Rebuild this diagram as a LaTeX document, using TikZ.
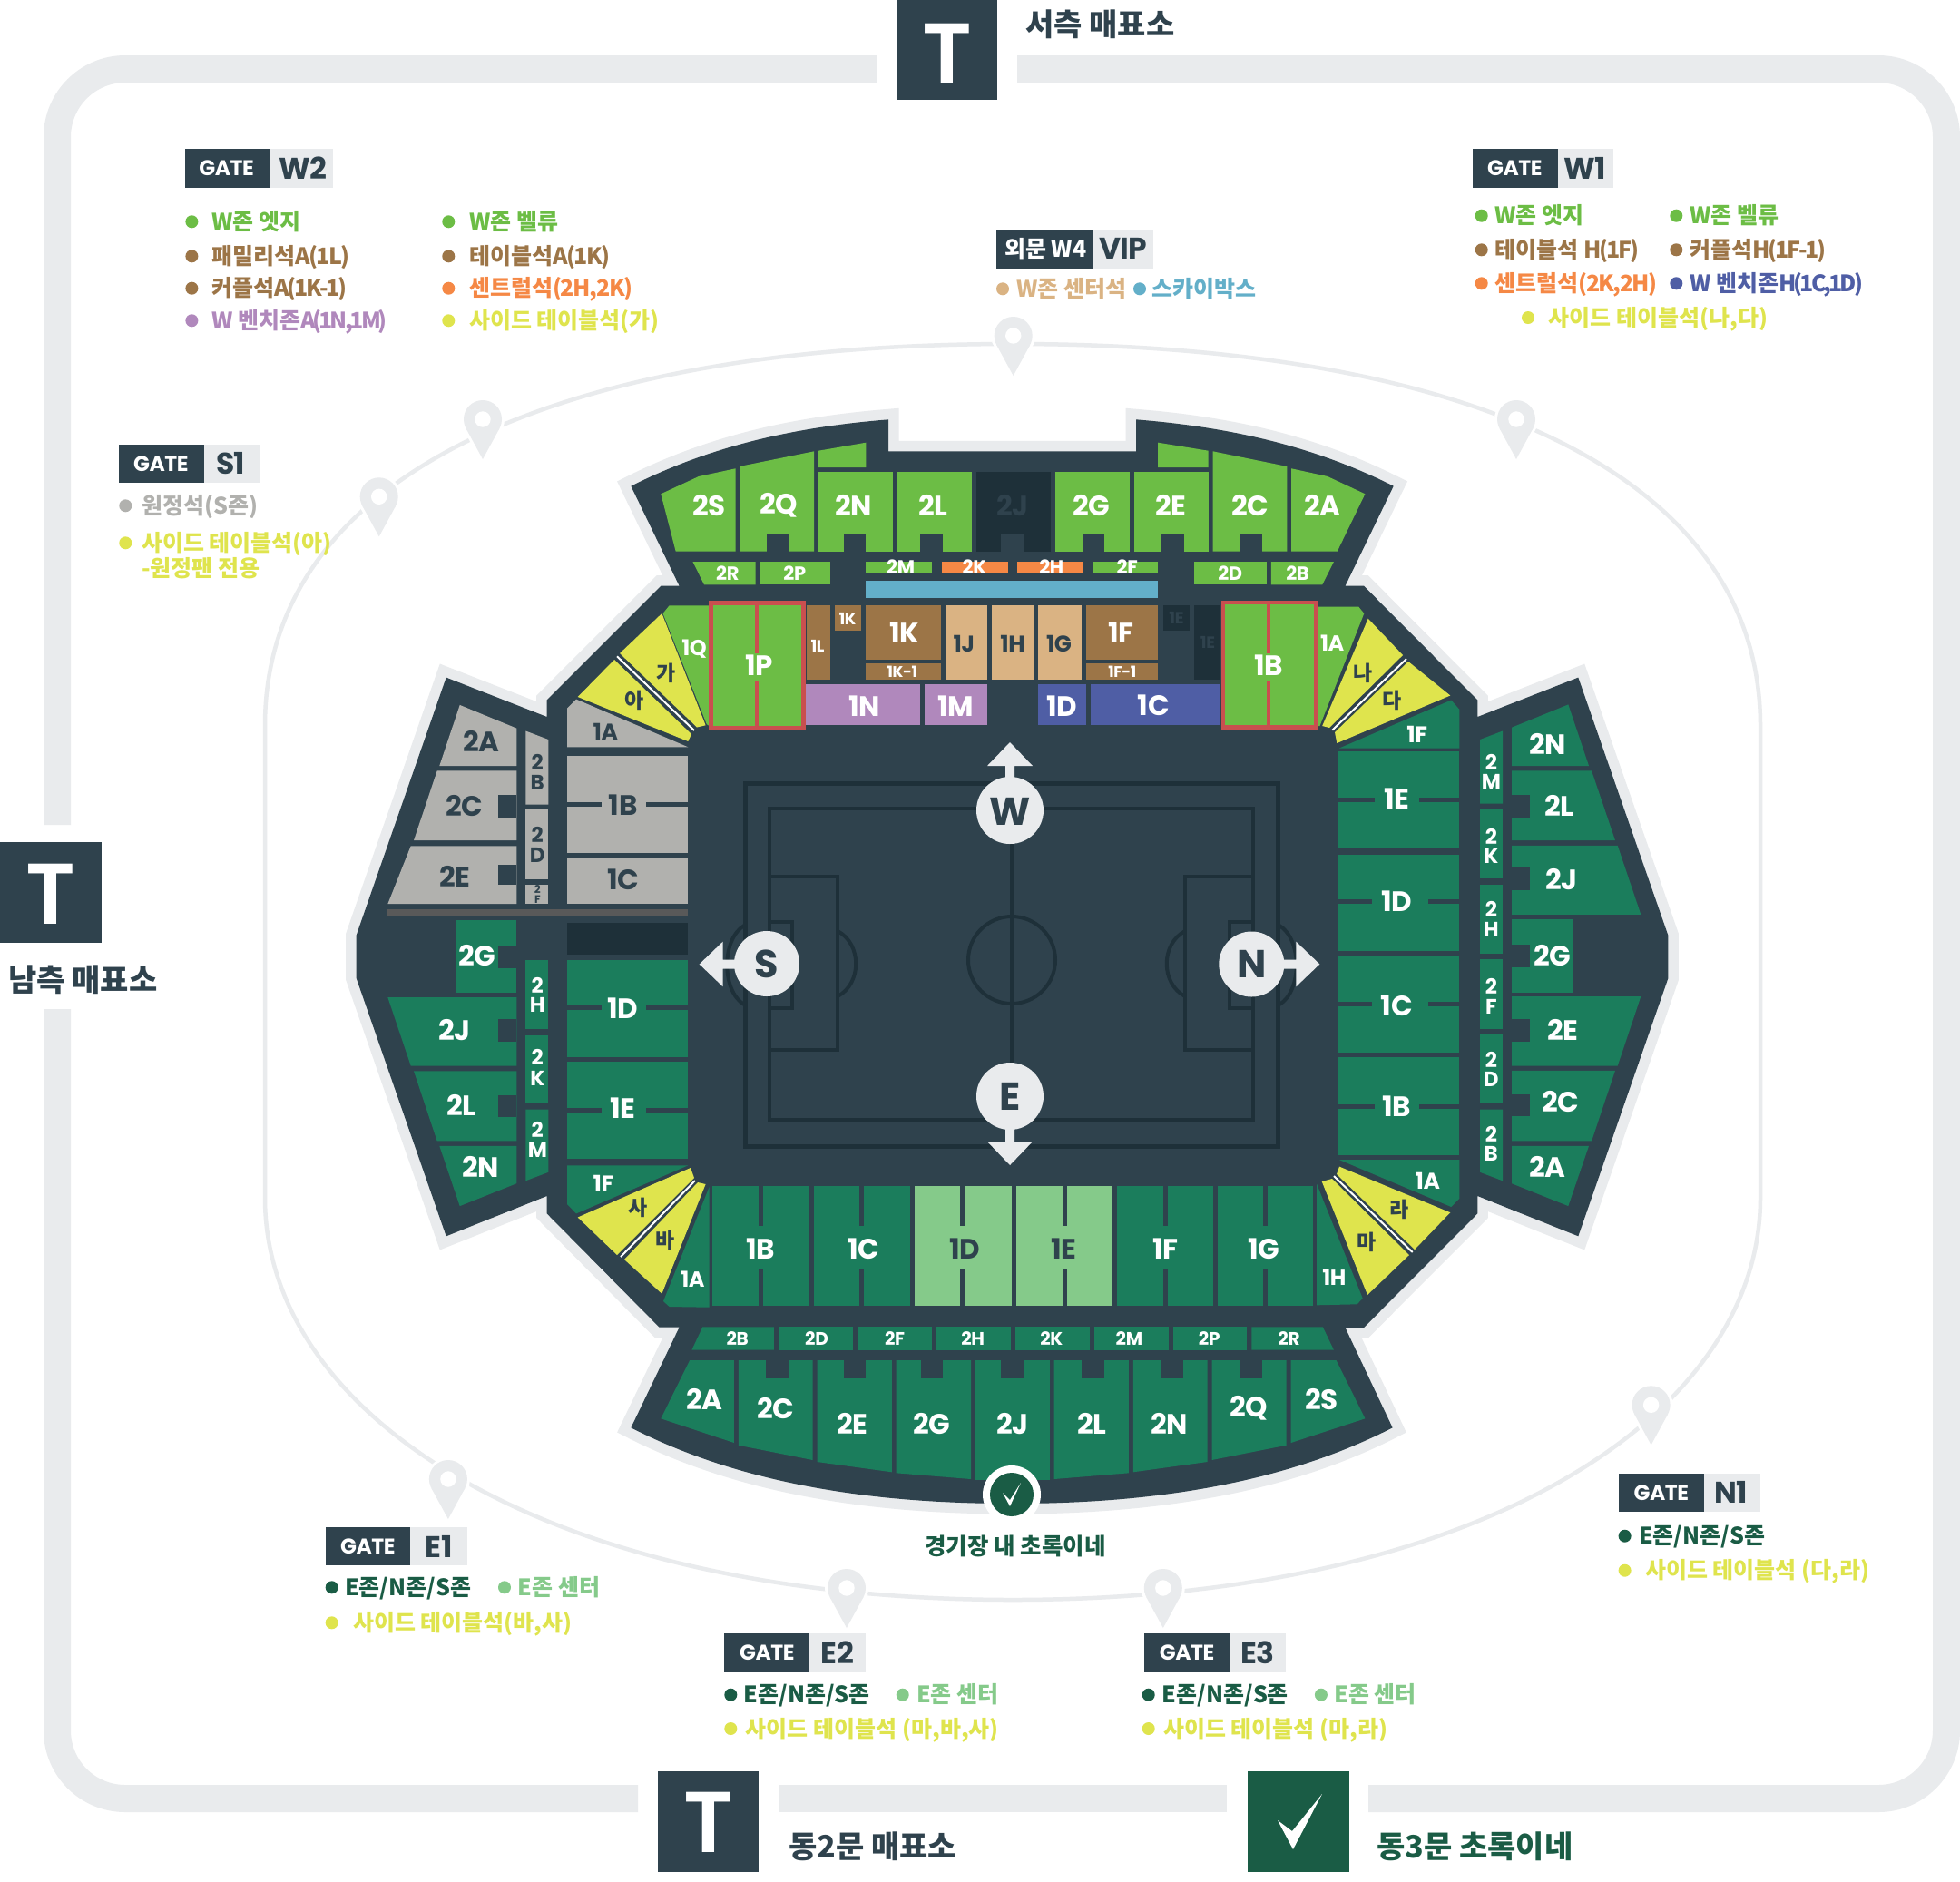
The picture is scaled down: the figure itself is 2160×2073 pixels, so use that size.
\documentclass[tikz,border=0pt]{standalone}
\usepackage{fontspec}
\newfontfamily\pop{Poppins}[LetterSpace=-2]
\newfontfamily\popsb{Poppins SemiBold}
\newfontfamily\kr{Noto Sans CJK KR}
\definecolor{dark}{HTML}{2F424D}
\definecolor{darker}{HTML}{1E3039}
\definecolor{lite}{HTML}{E9EBED}
\definecolor{wgreen}{HTML}{6CBD45}
\definecolor{brown}{HTML}{9C7547}
\definecolor{tan}{HTML}{DAB383}
\definecolor{purp}{HTML}{B088BC}
\definecolor{navy}{HTML}{4F5EA5}
\definecolor{orng}{HTML}{F58845}
\definecolor{sky}{HTML}{63AFC9}
\definecolor{yel}{HTML}{DFE44D}
\definecolor{dgreen}{HTML}{1B7D5C}
\definecolor{lgreen}{HTML}{85CA8A}
\definecolor{gry}{HTML}{B1B1AE}
\definecolor{redb}{HTML}{C94F4F}
\definecolor{forest}{HTML}{1A5C45}
\tikzset{
 lbl/.style={inner sep=0pt,font=\pop\bfseries},
 krl/.style={inner sep=0pt,font=\kr\bfseries},
 legtext/.style={inner sep=0pt,anchor=base west,font=\kr\bfseries},
 track/.style={draw=lite,line width=30pt,rounded corners=75pt},
 fieldline/.style={draw=darker,line width=4pt},
 redbox/.style={draw=redb,line width=4.5pt,fill=wgreen},
}
\newcommand{\wl}[4]{\node[lbl,text=white] at (#1,#2) {\fontsize{#3}{#3}\selectfont #4};}
\newcommand{\dl}[4]{\node[lbl,text=dark] at (#1,#2) {\fontsize{#3}{#3}\selectfont #4};}
\newcommand{\hl}[3]{\node[krl,text=dark] at (#1,#2) {\fontsize{23}{23}\selectfont #3};}
\newcommand{\stk}[7]{\node[lbl,text=#1] at (#2,#3) {\fontsize{#7}{#7}\selectfont #5};\node[lbl,text=#1] at (#2,#4) {\fontsize{#7}{#7}\selectfont #6};}
\newcommand{\nt}[4]{\fill[dark] (#1,#3) rectangle (#2,#4);}
\newcommand{\tgt}[2][-8]{{\addfontfeature{LetterSpace=#1}#2}}
\newcommand{\leg}[5]{\fill[#4] (#1,#3) circle[radius=7];\node[legtext,text=#4] at (#2,#3+9) {\fontsize{25}{25}\selectfont #5};}
\newcommand{\gate}[8]{\fill[lite] (#1,#4) rectangle (#3,#5);\fill[dark] (#1,#4) rectangle (#2,#5);
 \node[lbl,text=white] at (#6,{(#4+#5)/2}) {\fontsize{23.5}{24}\selectfont GATE};
 \node[lbl,text=dark] at (#7,{(#4+#5)/2}) {\fontsize{33}{33}\selectfont #8};}
\newcommand{\pinm}[2]{\fill[white,draw=white,line width=6pt] (#1,#2) circle[radius=21];
 \fill[white,draw=white,line width=6pt] (#1-18.5,#2+10) -- (#1,#2+44) -- (#1+18.5,#2+10) -- cycle;
 \fill[lite] (#1,#2) circle[radius=21];
 \fill[lite] (#1-18.5,#2+10) -- (#1,#2+44) -- (#1+18.5,#2+10) -- cycle;
 \fill[white] (#1,#2) circle[radius=8.7];}
\begin{document}
\begin{tikzpicture}[x=1pt,y=-1pt,line join=miter]
\useasboundingbox (0,0) rectangle (2160,2073);
\fill[white] (0,0) rectangle (2160,2073);
% outer track
\begin{scope}
\clip (0,0) rectangle (2160,2073);
\draw[track] (966,76) -- (63,76) -- (63,909);
\draw[track] (1121,76) -- (2145,76) -- (2145,1982) -- (1508,1982);
\draw[track] (63,1112) -- (63,1982) -- (703,1982);
\draw[draw=lite,line width=30pt] (858,1982) -- (1352,1982);
\end{scope}
% inner ring
\draw[lite,line width=4.5pt] (292,800) .. controls (292,520) and (620,379) .. (1116,379)
 .. controls (1612,379) and (1940,520) .. (1940,800) -- (1940,1320)
 .. controls (1940,1560) and (1632,1763) .. (1116,1763)
 .. controls (600,1763) and (292,1560) .. (292,1320) -- cycle;
% stadium outline
\def\stadium{(695.4,535.7) .. controls (790,488) and (885,470) .. (979,462.3) -- (979,497.3) -- (1252,497.3) -- (1252,462.3) .. controls (1346,470) and (1441,488) .. (1535.7,535.7) -- (1482.5,645.7) -- (1503,645.7) -- (1628.3,771.5) -- (1628.3,790) -- (1739.3,746.6) -- (1838.3,1030.6) -- (1838.3,1078.3) -- (1739.3,1362.3) -- (1628.3,1318) -- (1628.3,1337.4) -- (1503,1463) -- (1482.5,1463) -- (1534.6,1573.3) .. controls (1420,1632) and (1280,1657) .. (1115.5,1657) .. controls (950,1657) and (810,1632) .. (695.4,1573.3) -- (748.6,1462.7) -- (726.6,1462.7) -- (602.7,1337.4) -- (602.7,1318) -- (491.7,1362.3) -- (392.7,1078) -- (392.7,1030.6) -- (491.7,746.6) -- (602.7,790) -- (602.7,771.5) -- (728.3,645.7) -- (748.6,645.7) -- cycle}
\draw[lite,line width=23pt,miter limit=20] \stadium;
\fill[dark] \stadium;
% ---------- top upper stand
\fill[wgreen] (728.3,544.3) -- (770,525) -- (810.5,516.3) -- (810.5,607.7) -- (744.7,607.7) -- cycle;
\fill[wgreen] (815,514) -- (897.2,497.3) -- (897.2,607.7) -- (815,607.7) -- cycle; \nt{844.6}{869.2}{587.7}{607.7}
\fill[wgreen] (902,496.7) -- (954.3,487.7) -- (954.3,515) -- (902,515) -- cycle;
\fill[wgreen] (902.1,520) rectangle (983.9,607.7); \nt{929.6}{954.3}{587.7}{607.7}
\fill[wgreen] (988.8,520) rectangle (1071,607.7); \nt{1014}{1039.3}{587.7}{607.7}
\fill[darker] (1076,520) rectangle (1158.3,607.7); \nt{1103.4}{1128.7}{587.7}{607.7}
\fill[wgreen] (1163.2,520) rectangle (1245,607.7); \nt{1192.9}{1217}{587.7}{607.7}
\fill[wgreen] (1250,520) rectangle (1331.6,607.7); \nt{1279.5}{1304.7}{587.7}{607.7}
\fill[wgreen] (1276.2,487.7) -- (1331.6,496.7) -- (1331.6,515) -- (1276.2,515) -- cycle;
\fill[wgreen] (1336.6,497.3) -- (1418.3,514) -- (1418.3,607.7) -- (1336.6,607.7) -- cycle; \nt{1366.7}{1391.4}{587.7}{607.7}
\fill[wgreen] (1423.2,516.3) -- (1463,525) -- (1504.4,544.3) -- (1473.7,607.7) -- (1423.2,607.7) -- cycle;
\wl{781.5}{556.7}{31}{2S} \wl{858.3}{556.7}{31}{2Q} \wl{940.5}{556.7}{31}{2N} \wl{1028.3}{556.7}{31}{2L}
\node[lbl,text=dark] at (1116,556.7) {\fontsize{31}{31}\selectfont 2J};
\wl{1202.7}{556.7}{31}{2G} \wl{1290}{556.7}{31}{2E} \wl{1377.7}{556.7}{31}{2C} \wl{1457.2}{556.7}{31}{2A}
% top lower row
\fill[wgreen] (763.4,619) -- (832.5,619) -- (832.5,644.3) -- (776,644.3) -- cycle;
\fill[wgreen] (836.9,619) rectangle (914.8,644.3);
\fill[wgreen] (954.3,619) rectangle (1027.2,632);
\fill[orng] (1037.6,619) rectangle (1110.6,632);
\fill[orng] (1120.5,619) rectangle (1193.4,632);
\fill[wgreen] (1203.8,619) rectangle (1276.2,632);
\fill[wgreen] (1316.3,619) rectangle (1395.8,644.3);
\fill[wgreen] (1400.8,619) -- (1469.9,619) -- (1457.2,644.3) -- (1400.8,644.3) -- cycle;
\fill[sky] (954.3,640) rectangle (1276.2,659.3);
\wl{801.8}{631.7}{21}{2R} \wl{875.8}{631.7}{21}{2P} \wl{992.6}{624.3}{21}{2M} \wl{1073.8}{624.3}{21}{2K} \wl{1158.8}{624.3}{21}{2H} \wl{1242.2}{624.3}{21}{2F} \wl{1355.8}{631.7}{21}{2D} \wl{1430}{631.7}{21}{2B}
% top 1st tier
\fill[wgreen] (737.6,667.3) -- (781.5,667.3) -- (781.5,800) -- (778.7,798) -- (730.5,676) -- cycle;
\fill[brown] (889,667.3) rectangle (914.8,749);
\fill[brown] (920.2,667.3) rectangle (949.3,695.3);
\fill[brown] (954.3,667.3) rectangle (1036.5,726.7);
\fill[brown] (954.3,731) rectangle (1036.5,749);
\fill[tan] (1041.5,667.3) rectangle (1088.1,749);
\fill[tan] (1092.5,667.3) rectangle (1139.1,749);
\fill[tan] (1144,667.3) rectangle (1191.8,749);
\fill[brown] (1196.7,667.3) rectangle (1276.2,726.7);
\fill[brown] (1196.7,731) rectangle (1276.2,749);
\fill[darker] (1282.2,667.3) rectangle (1310.8,695.3);
\fill[darker] (1315.7,667.3) rectangle (1345.4,749);
\fill[purp] (888.4,753.7) rectangle (1013.5,799.3);
\fill[purp] (1019,753.7) rectangle (1088.1,799.3);
\fill[navy] (1144,753.7) rectangle (1197.2,799.3);
\fill[navy] (1202.2,753.7) rectangle (1345.4,799.3);
\fill[wgreen] (1452.1,668.7) -- (1497.3,668.7) -- (1503.3,676) -- (1454.5,800) -- (1452.1,800) -- cycle;
\draw[redbox] (783.7,664.5) rectangle (885.5,802.5);
\fill[redb] (831.8,664.5) rectangle (836.2,720); \fill[redb] (831.8,750.7) rectangle (836.2,802.5);
\draw[redbox] (1348,664) rectangle (1450,801.5);
\fill[redb] (1395.9,664) rectangle (1400.3,720); \fill[redb] (1395.9,750.7) rectangle (1400.3,801.5);
\wl{765}{715}{24}{1Q} \wl{836.3}{732.7}{31}{1P} \wl{901}{711.7}{18}{1L} \wl{934}{681.7}{18}{1K} \wl{996.5}{696.7}{31}{1K} \wl{994.3}{740}{17}{1K-1}
\dl{1062.3}{709.3}{25}{1J} \dl{1116}{709.3}{25}{1H} \dl{1167}{709.3}{25}{1G}
\wl{1235.6}{696.7}{31}{1F} \wl{1236.7}{740}{17}{1F-1}
\dl{1296.5}{680.7}{18}{1E} \dl{1331}{708.3}{18}{1E}
\wl{1398.5}{732.7}{31}{1B} \wl{1468.2}{708.3}{24}{1A}
\wl{952.6}{777.7}{31}{1N} \wl{1053}{777.7}{31}{1M} \wl{1169.8}{777.7}{31}{1D} \wl{1271.3}{777.7}{31}{1C}
% yellow wedges
\fill[yel] (729.4,676) -- (777.6,799.3) -- (768,801.5) -- (683,720) -- cycle;
\fill[yel] (636.7,768) -- (677,727) -- (762,809) -- (758.3,817) -- cycle;
\draw[white,line width=2pt] (680,723.3) -- (765,805);
\fill[yel] (636.7,1341.5) -- (761,1287) -- (765,1298) -- (680,1383) -- cycle;
\fill[yel] (777.6,1305) -- (769,1303) -- (688,1388) -- (729.4,1425.7) -- cycle;
\draw[white,line width=2pt] (766,1301) -- (684,1385);
\fill[yel] (1507.7,681.7) -- (1546,722) -- (1465,802) -- (1457.2,800) -- cycle;
\fill[yel] (1471,807) -- (1552,729) -- (1598.3,766.5) -- (1473.3,819) -- cycle;
\draw[white,line width=2pt] (1468.3,804.6) -- (1550,726);
\fill[yel] (1476,1285.6) -- (1598.3,1336.2) -- (1559,1377) -- (1473,1294) -- cycle;
\fill[yel] (1456.7,1302) -- (1468,1299) -- (1553,1383) -- (1507,1427) -- cycle;
\draw[white,line width=2pt] (1470,1296) -- (1556.7,1380);
\hl{733.8}{741.7}{가} \hl{699}{771.5}{아} \hl{703.3}{1331.2}{사} \hl{733.3}{1366.4}{바}
\hl{1501.7}{741.7}{나} \hl{1534.3}{771.5}{다} \hl{1541.7}{1333.2}{라} \hl{1505.7}{1368.5}{마}
% ---------- left wing gray
\fill[gry] (506.7,776.9) -- (569.3,802.6) -- (569.3,844) -- (484.3,844) -- cycle;
\fill[gry] (481.7,849.4) -- (569.3,849.4) -- (569.3,926.1) -- (456,926.1) -- cycle; \nt{549.3}{569.3}{876}{901.2}
\fill[gry] (452.7,932.3) -- (569.3,932.3) -- (569.3,996.2) -- (427.3,996.2) -- cycle; \nt{549.3}{569.3}{953}{974.6}
\fill[gry] (579.3,805.5) -- (604.3,815) -- (604.3,886.7) -- (579.3,886.7) -- cycle;
\fill[gry] (579.3,891.7) rectangle (604.3,969.2);
\fill[gry] (579.3,974.6) rectangle (604.3,996.2);
\fill[gry] (625,780.6) -- (635,770.6) -- (758.3,823.3) -- (625,823.3) -- cycle;
\fill[gry] (625,832.8) rectangle (758.3,940.2);
\fill[gry] (625,945.6) rectangle (758.3,996.2);
\nt{625}{663.3}{883.8}{888.8} \nt{712.3}{758.3}{883.8}{888.8}
\fill[black!65] (426,1001.6) rectangle (758.3,1009);
\fill[darker] (625,1017.3) rectangle (758.3,1052.2);
\dl{530}{817}{31}{2A} \dl{511.7}{888.4}{31}{2C} \dl{501}{966.3}{31}{2E}
\stk{dark}{592.3}{840}{862}{2}{B}{23} \stk{dark}{592.3}{920}{942.3}{2}{D}{23} \stk{dark}{592.3}{980}{991}{2}{F}{12}
\dl{667.3}{805.9}{25}{1A} \dl{686.7}{886.7}{31}{1B} \dl{686.7}{969.6}{31}{1C}
% left wing green
\fill[dgreen] (502,1014) rectangle (569.3,1093.6); \nt{549.3}{569.3}{1042.2}{1066.7}
\fill[dgreen] (427.3,1099) -- (569.3,1099) -- (569.3,1174.5) -- (452.7,1174.5) -- cycle; \nt{549.3}{569.3}{1123}{1147.9}
\fill[dgreen] (456,1180.3) -- (569.3,1180.3) -- (569.3,1257.4) -- (481.7,1257.4) -- cycle; \nt{549.3}{569.3}{1206.8}{1230.8}
\fill[dgreen] (484.3,1262.8) -- (569.3,1262.8) -- (569.3,1304.2) -- (506.7,1329.1) -- cycle;
\fill[dgreen] (579.3,1057.5) rectangle (604.3,1134.2);
\fill[dgreen] (579.3,1140.5) rectangle (604.3,1216.3);
\fill[dgreen] (579.3,1222.5) -- (604.3,1222.5) -- (604.3,1291.8) -- (579.3,1301.3) -- cycle;
\fill[dgreen] (625,1057.5) rectangle (758.3,1164.5);
\fill[dgreen] (625,1170.3) rectangle (758.3,1277.3);
\nt{625}{663.3}{1108}{1113} \nt{712.3}{758.3}{1108}{1113}
\nt{625}{663.3}{1221}{1226} \nt{712.3}{758.3}{1221}{1226}
\fill[dgreen] (625,1284.3) -- (758.3,1284.3) -- (635,1337.4) -- (625,1327) -- cycle;
\wl{526}{1053.4}{31}{2G} \wl{500.7}{1135}{31}{2J} \wl{508}{1218.4}{31}{2L} \wl{529.3}{1285.6}{31}{2N}
\stk{white}{592.3}{1085.7}{1107.3}{2}{H}{23} \stk{white}{592.3}{1165.3}{1188}{2}{K}{23} \stk{white}{592.3}{1245.3}{1267.7}{2}{M}{23}
\wl{686.7}{1111.4}{31}{1D} \wl{686.7}{1221.3}{31}{1E} \wl{665}{1304.2}{25}{1F}
% ---------- right wing
\fill[dgreen] (1666,801.7) -- (1728.3,776.4) -- (1751,844) -- (1666,844) -- cycle;
\fill[dgreen] (1666,849.4) -- (1754,849.4) -- (1780,926.1) -- (1666,926.1) -- cycle; \nt{1666}{1686}{876}{901.2}
\fill[dgreen] (1666,931.9) -- (1782.7,931.9) -- (1808.3,1007.8) -- (1666,1007.8) -- cycle; \nt{1666}{1686}{956.4}{981.2}
\fill[dgreen] (1666,1013.2) rectangle (1733.3,1093.6); \nt{1666}{1686}{1041}{1065.8}
\fill[dgreen] (1666,1098.2) -- (1808.3,1098.2) -- (1782.7,1174.5) -- (1666,1174.5) -- cycle; \nt{1666}{1686}{1123}{1147.9}
\fill[dgreen] (1666,1179.8) -- (1780,1179.8) -- (1754,1257.4) -- (1666,1257.4) -- cycle; \nt{1666}{1686}{1205.6}{1230.4}
\fill[dgreen] (1666,1262.8) -- (1751,1262.8) -- (1728.3,1329.1) -- (1666,1304.2) -- cycle;
\fill[dgreen] (1631,815) -- (1656,805.5) -- (1656,885.5) -- (1631,885.5) -- cycle;
\fill[dgreen] (1631,891.7) rectangle (1656,968.4);
\fill[dgreen] (1631,974.6) rectangle (1656,1050.5);
\fill[dgreen] (1631,1056.7) rectangle (1656,1134.2);
\fill[dgreen] (1631,1139.6) rectangle (1656,1216.3);
\fill[dgreen] (1631,1222.5) -- (1656,1222.5) -- (1656,1301.3) -- (1631,1291.8) -- cycle;
\fill[dgreen] (1476,824.5) -- (1599.3,771.5) -- (1608.3,781.8) -- (1608.3,824.5) -- cycle;
\fill[dgreen] (1474.3,828.3) rectangle (1608.3,935.2);
\fill[dgreen] (1474.3,941.5) rectangle (1608.3,1048);
\fill[dgreen] (1474.3,1053.4) rectangle (1608.3,1160.4);
\fill[dgreen] (1474.3,1165.3) rectangle (1608.3,1273.1);
\fill[dgreen] (1476,1278.1) -- (1608.3,1278.1) -- (1608.3,1320.8) -- (1599.3,1330) -- cycle;
\nt{1474.3}{1515}{879.2}{884.2} \nt{1564}{1608.3}{879.2}{884.2}
\nt{1474.3}{1511.7}{991.2}{996.2} \nt{1574}{1608.3}{991.2}{996.2}
\nt{1474.3}{1511.7}{1104}{1109} \nt{1574}{1608.3}{1104}{1109}
\nt{1474.3}{1515}{1216.7}{1221.7} \nt{1564}{1608.3}{1216.7}{1221.7}
\wl{1705.7}{820.4}{31}{2N} \wl{1718.3}{888.4}{31}{2L} \wl{1721}{969.2}{31}{2J} \wl{1710.7}{1053.4}{31}{2G} \wl{1722.3}{1135}{31}{2E} \wl{1720}{1214.3}{31}{2C} \wl{1705.7}{1285.6}{31}{2A}
\stk{white}{1643.3}{839.9}{861.8}{2}{M}{23} \stk{white}{1643.3}{921.5}{943.5}{2}{K}{23} \stk{white}{1643.3}{1001.6}{1024.4}{2}{H}{23}
\stk{white}{1643.3}{1086.6}{1109.4}{2}{F}{23} \stk{white}{1643.3}{1168.2}{1189.4}{2}{D}{23} \stk{white}{1643.3}{1249.5}{1271}{2}{B}{23}
\wl{1561.7}{809.6}{25}{1F} \wl{1539.3}{880}{31}{1E} \wl{1539.3}{993.3}{31}{1D} \wl{1539.3}{1108.5}{31}{1C} \wl{1539.3}{1219.2}{31}{1B} \wl{1573.3}{1300.9}{25}{1A}
% ---------- bottom 1st tier
\fill[dgreen] (781.5,1308.3) -- (781.5,1440.7) -- (737.6,1440) -- (731,1434) -- cycle;
\fill[dgreen] (785.3,1307.3) rectangle (891.7,1439.3);
\fill[dgreen] (897.2,1307.3) rectangle (1002.5,1439.3);
\fill[lgreen] (1008,1307.3) rectangle (1115,1439.3);
\fill[lgreen] (1120.4,1307.3) rectangle (1225.8,1439.3);
\fill[dgreen] (1231.2,1307.3) rectangle (1337.1,1439.3);
\fill[dgreen] (1342,1307.3) rectangle (1446.8,1439.3);
\fill[dgreen] (1451.2,1305) -- (1451.2,1438.3) -- (1495.6,1437.3) -- (1501.7,1430.7) -- cycle;
\foreach \dx in {838.5,949.3,1060.1,1173.1,1284.4,1394.1}{
 \fill[dark] (\dx-2.5,1307.3) rectangle (\dx+2.5,1350.7);
 \fill[dark] (\dx-2.5,1399.3) rectangle (\dx+2.5,1439.3);}
\wl{763.4}{1409.3}{24}{1A} \wl{838.5}{1376}{31}{1B} \wl{951.5}{1376}{31}{1C} \dl{1062.9}{1376}{31}{1D} \dl{1172.6}{1376}{31}{1E} \wl{1284.4}{1376}{31}{1F} \wl{1393}{1376}{31}{1G} \wl{1470.4}{1407.3}{24}{1H}
% bottom row
\fill[dgreen] (774.3,1462.3) -- (852.8,1462.3) -- (852.8,1487.7) -- (762.3,1487.7) -- cycle;
\fill[dgreen] (858.3,1462.3) rectangle (940,1487.7);
\fill[dgreen] (945,1462.3) rectangle (1027.2,1487.7);
\fill[dgreen] (1032.1,1462.3) rectangle (1113.9,1487.7);
\fill[dgreen] (1118.8,1462.3) rectangle (1201.1,1487.7);
\fill[dgreen] (1205.5,1462.3) rectangle (1287.7,1487.7);
\fill[dgreen] (1292.7,1462.3) rectangle (1374.4,1487.7);
\fill[dgreen] (1379.3,1462.3) -- (1457.8,1462.3) -- (1469.9,1487.7) -- (1379.3,1487.7) -- cycle;
\wl{812.7}{1475}{20}{2B} \wl{900}{1475}{20}{2D} \wl{986}{1475}{20}{2F} \wl{1072.2}{1475}{20}{2H} \wl{1158.8}{1475}{20}{2K} \wl{1244.4}{1475}{20}{2M} \wl{1332.7}{1475}{20}{2P} \wl{1420.5}{1475}{20}{2R}
% bottom stand
\fill[dgreen] (760.1,1499) -- (808.9,1499) -- (808.9,1590) -- (728.3,1563.3) -- cycle;
\fill[dgreen] (813.8,1499) -- (895.6,1499) -- (895.6,1609) -- (813.8,1592.7) -- cycle; \nt{844}{869.2}{1499}{1519.3}
\fill[dgreen] (900.5,1499) -- (982.8,1499) -- (982.8,1622.3) -- (900.5,1611) -- cycle; \nt{929.6}{954.3}{1499}{1519.3}
\fill[dgreen] (987.7,1499) -- (1070,1499) -- (1070,1630) -- (987.7,1623.3) -- cycle; \nt{1014.6}{1039.3}{1499}{1519.3}
\fill[dgreen] (1074.4,1499) -- (1157.2,1499) -- (1157.2,1630.7) -- (1074.4,1630.7) -- cycle; \nt{1103.4}{1128.7}{1499}{1519.3}
\fill[dgreen] (1161.6,1499) -- (1243.9,1499) -- (1243.9,1623.3) -- (1161.6,1630) -- cycle; \nt{1192.3}{1217}{1499}{1519.3}
\fill[dgreen] (1248.8,1499) -- (1330.5,1499) -- (1330.5,1611) -- (1248.8,1622.3) -- cycle; \nt{1279}{1304.2}{1499}{1519.3}
\fill[dgreen] (1335.5,1499) -- (1417.7,1499) -- (1417.7,1592.7) -- (1335.5,1609) -- cycle; \nt{1366.7}{1391.4}{1499}{1519.3}
\fill[dgreen] (1422.7,1499) -- (1472.6,1499) -- (1504.4,1563.3) -- (1422.7,1590) -- cycle;
\wl{776.5}{1541.7}{31}{2A} \wl{854.4}{1551.7}{31}{2C} \wl{939.4}{1569.3}{31}{2E} \wl{1027.2}{1569.3}{31}{2G} \wl{1116}{1569.3}{31}{2J} \wl{1203.8}{1569.3}{31}{2L} \wl{1288.8}{1569.3}{31}{2N} \wl{1376.6}{1551.7}{31}{2Q} \wl{1456.1}{1541.7}{31}{2S}
% ---------- field
\draw[fieldline,line width=5pt] (821,863) rectangle (1408,1263);
\draw[fieldline] (848,891) rectangle (1381,1234);
\draw[fieldline] (1115,891) -- (1115,1234);
\draw[fieldline] (1115,1058) circle[radius=48];
\draw[fieldline] (848,966) -- (923,966) -- (923,1157) -- (848,1157);
\draw[fieldline] (848,1016) -- (873,1016) -- (873,1111) -- (848,1111);
\draw[fieldline] (1381,966) -- (1306,966) -- (1306,1157) -- (1381,1157);
\draw[fieldline] (1381,1016) -- (1355,1016) -- (1355,1111) -- (1381,1111);
\draw[fieldline] (923,1026) .. controls (950,1040) and (950,1084) .. (923,1098);
\draw[fieldline] (1306,1026) .. controls (1279,1040) and (1279,1084) .. (1306,1098);
\draw[fieldline] (820,1020) .. controls (795,1035) and (795,1092) .. (820,1107);
\draw[fieldline] (1410,1020) .. controls (1435,1035) and (1435,1092) .. (1410,1107);
% direction markers
\fill[lite] (1113,818) -- (1138,844) -- (1118,844) -- (1118,870) -- (1108,870) -- (1108,844) -- (1088,844) -- cycle;
\fill[lite] (1113,893) circle[radius=37];
\dl{1113}{894}{43}{W}
\fill[lite] (1113,1284) -- (1138,1258) -- (1118,1258) -- (1118,1232) -- (1108,1232) -- (1108,1258) -- (1088,1258) -- cycle;
\fill[lite] (1113,1208) circle[radius=37];
\dl{1113}{1208}{43}{E}
\fill[lite] (770.7,1062.5) -- (796.7,1037.6) -- (796.7,1057.5) -- (820,1057.5) -- (820,1067.5) -- (796.7,1067.5) -- (796.7,1087.4) -- cycle;
\fill[lite] (845,1062) circle[radius=36];
\dl{845}{1062.5}{43}{S}
\fill[lite] (1454.3,1062.5) -- (1428.3,1037.6) -- (1428.3,1057.5) -- (1405,1057.5) -- (1405,1067.5) -- (1428.3,1067.5) -- (1428.3,1087.4) -- cycle;
\fill[lite] (1379.3,1062.5) circle[radius=36];
\dl{1379.3}{1062.5}{43}{N}
% check marker
\fill[white] (1115,1647) circle[radius=32];
\fill[forest] (1115,1647) circle[radius=24];
\fill[white] (1105,1645) -- (1113,1653) -- (1125,1634) -- (1113,1660) -- cycle;
\node[krl,text=forest] at (1119,1703.5) {\fontsize{25.5}{26}\selectfont 경기장 내 초록이네};
% T boxes
\fill[dark] (988,0) rectangle (1099,110);
\node[inner sep=0pt,font=\popsb,text=white] at (1044,59) {\fontsize{95}{95}\selectfont T};
\node[krl,text=dark,anchor=west] at (1130,27) {\fontsize{34}{35}\selectfont 서측 매표소};
\fill[dark] (0,928) rectangle (112,1039);
\node[inner sep=0pt,font=\popsb,text=white] at (56,985) {\fontsize{95}{95}\selectfont T};
\node[krl,text=dark,anchor=west] at (9,1080) {\fontsize{34}{35}\selectfont 남측 매표소};
\fill[dark] (725,1952) rectangle (836,2063);
\node[inner sep=0pt,font=\popsb,text=white] at (781,2008) {\fontsize{95}{95}\selectfont T};
\node[krl,text=dark,anchor=west] at (869,2035) {\fontsize{34}{35}\selectfont 동2문 매표소};
\fill[forest] (1375,1952) rectangle (1487,2063);
\fill[white] (1408,2006) -- (1424,2018) -- (1457,1977) -- (1425,2038) -- cycle;
\node[krl,text=forest,anchor=west] at (1517,2035) {\fontsize{34}{35}\selectfont 동3문 초록이네};
% pins
\pinm{1116.7}{370} \pinm{417.7}{547.3} \pinm{532}{462} \pinm{1671}{462}
\pinm{493.9}{1630} \pinm{933}{1750} \pinm{1281.8}{1750} \pinm{1819.6}{1548.3}
% W2
\gate{204.3}{297.5}{366.8}{164.3}{207}{249.6}{334}{W2}
\leg{211.4}{232.9}{244.3}{wgreen}{W존 엣지}
\leg{211.4}{232.9}{282.3}{brown}{패밀리석\tgt[-6]{A(1L)}}
\leg{211.4}{232.9}{317.7}{brown}{커플석\tgt[-8]{A(1K-1)}}
\leg{211.4}{232.9}{353.3}{purp}{W 벤치존\tgt[-12]{A(1N,1M)}}
\leg{494.3}{516.8}{244.3}{wgreen}{W존 벨류}
\leg{494.3}{516.8}{282.3}{brown}{테이블석\tgt[-6]{A(1K)}}
\leg{494.3}{516.8}{317.7}{orng}{센트럴석\tgt[-5]{(2H,2K)}}
\leg{494.3}{516.8}{353.3}{yel}{사이드 테이블석(가)}
% VIP
\fill[lite] (1098,253.3) rectangle (1271.3,295.7);
\fill[dark] (1098,253.3) rectangle (1204,295.7);
\node[krl,text=white] at (1152.3,274.3) {\fontsize{25}{25}\selectfont 외문 W4};
\node[lbl,text=dark] at (1237.7,274.3) {\fontsize{33}{33}\selectfont VIP};
\leg{1105}{1120}{318.3}{tan}{W존 센터석}
\leg{1256}{1269}{318.3}{sky}{스카이박스}
% W1
\gate{1623.3}{1716.7}{1777.7}{164.3}{207}{1669.3}{1746.7}{W1}
\leg{1632.7}{1647.3}{237.7}{wgreen}{W존 엣지}
\leg{1632.7}{1647.3}{275.3}{brown}{테이블석 \tgt[-8]{H(1F)}}
\leg{1632.7}{1647.3}{312.3}{orng}{센트럴석\tgt[-6]{(2K,2H)}}
\leg{1847.3}{1862.3}{237.7}{wgreen}{W존 벨류}
\leg{1847.3}{1862.3}{275.3}{brown}{커플석\tgt[-9]{H(1F-1)}}
\leg{1847.3}{1862.3}{312.3}{navy}{W 벤치존\tgt[-12]{H(1C,1D)}}
\leg{1684}{1706.7}{350}{yel}{사이드 테이블석(나,다)}
% S1
\gate{131}{224.7}{286.7}{489.7}{532.3}{177.3}{254.3}{S1}
\leg{138.3}{156}{557.3}{gry}{원정석(S존)}
\leg{138.3}{156}{598.3}{yel}{사이드 테이블석(아)}
\node[legtext,text=yel] at (156,635.7) {\fontsize{25}{25}\selectfont -원정팬 전용};
% E1
\gate{359.2}{452.2}{514.7}{1683}{1725.3}{405.3}{483.7}{E1}
\leg{365.7}{380}{1749.3}{forest}{E존/N존/S존}
\leg{556}{570.6}{1749.3}{lgreen}{E존 센터}
\leg{365.7}{389}{1788.3}{yel}{사이드 테이블석(바,사)}
% E2
\gate{798}{891.8}{954.3}{1800.3}{1843}{845.3}{922.9}{E2}
\leg{805.3}{819.6}{1867.7}{forest}{E존/N존/S존}
\leg{994.7}{1010}{1867.7}{lgreen}{E존 센터}
\leg{805.3}{821.6}{1905}{yel}{사이드 테이블석 (마,바,사)}
% E3
\gate{1261.4}{1354.6}{1416.8}{1800.3}{1843}{1308}{1385.7}{E3}
\leg{1265.7}{1280.7}{1867.7}{forest}{E존/N존/S존}
\leg{1455.9}{1470.3}{1867.7}{lgreen}{E존 센터}
\leg{1265.7}{1281.8}{1905}{yel}{사이드 테이블석 (마,라)}
% N1
\gate{1784.3}{1878}{1940}{1623.7}{1666}{1830.8}{1908}{N1}
\leg{1790.6}{1806}{1692.7}{forest}{E존/N존/S존}
\leg{1790.6}{1813}{1730.7}{yel}{사이드 테이블석 (다,라)}
\end{tikzpicture}
\end{document}
